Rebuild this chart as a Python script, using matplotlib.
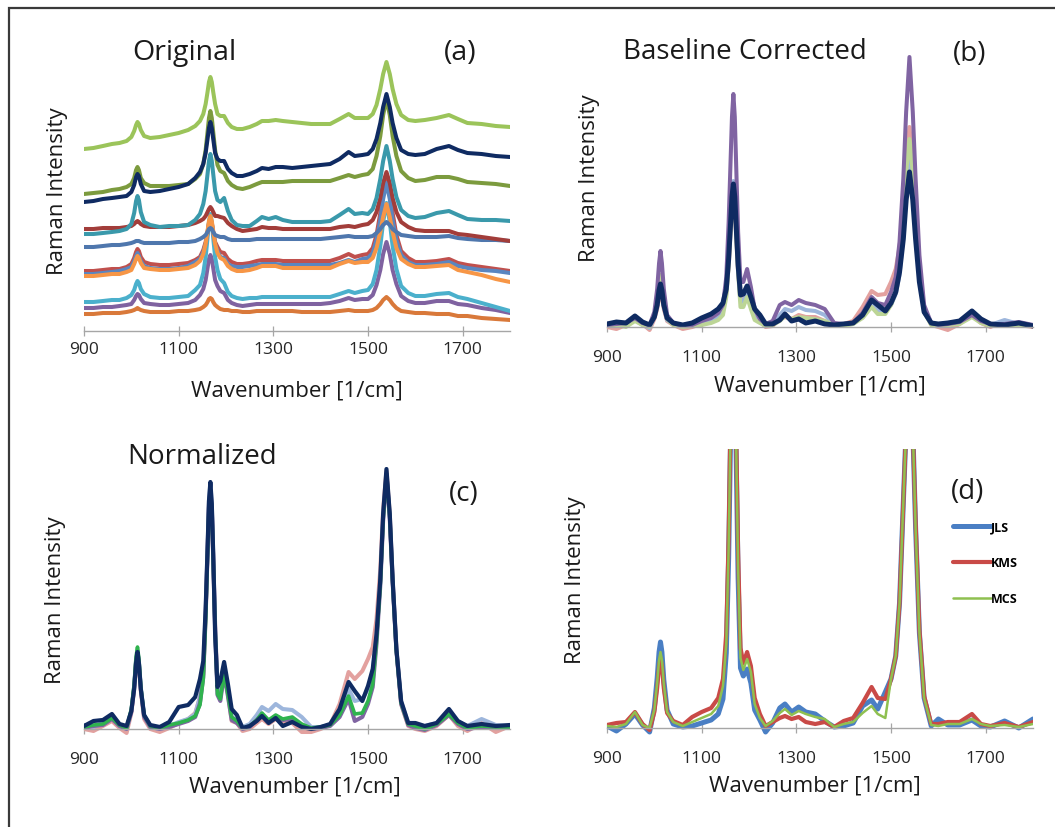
import matplotlib.pyplot as plt
from matplotlib.patches import Rectangle

plt.rcParams['font.family'] = ['Open Sans', 'DejaVu Sans']

# wavenumber grid [1/cm]
wn = [900, 920, 940, 959, 975, 990, 1000, 1006, 1010, 1013,
      1016, 1020, 1027, 1040, 1060, 1080, 1100, 1120, 1135, 1145,
      1152, 1157, 1161, 1164, 1167, 1170, 1173, 1177, 1182, 1188,
      1196, 1204, 1212, 1223, 1235, 1250, 1265, 1276, 1290, 1305,
      1320, 1340, 1360, 1380, 1400, 1420, 1440, 1459, 1472, 1488,
      1500, 1510, 1518, 1526, 1532, 1539, 1546, 1552, 1560, 1570,
      1585, 1600, 1620, 1645, 1671, 1690, 1710, 1740, 1770, 1800]

# (a) original spectra (arbitrary units, stacked as measured)
orig_brown = [17, 17, 18, 18, 18, 19, 20, 21, 22, 23,
              22, 21, 20, 19, 19, 19, 20, 20, 21, 22,
              24, 26, 29, 32, 33, 32, 29, 26, 24, 22,
              21, 21, 20, 20, 19, 19, 20, 20, 20, 20,
              20, 20, 19, 19, 19, 19, 20, 21, 20, 20,
              20, 21, 23, 27, 31, 34, 31, 27, 23, 20,
              19, 18, 18, 17, 17, 15, 15, 13, 12, 11]
orig_purple = [23, 23, 24, 24, 25, 26, 27, 31, 35, 37,
               36, 32, 28, 27, 26, 26, 27, 28, 31, 36,
               42, 51, 63, 72, 76, 72, 63, 51, 45, 40,
               38, 31, 28, 26, 25, 26, 27, 27, 27, 27,
               27, 27, 27, 27, 27, 28, 30, 33, 31, 32,
               32, 36, 46, 61, 77, 89, 77, 61, 47, 35,
               30, 28, 28, 30, 30, 27, 26, 23, 21, 18]
orig_cyan = [29, 29, 30, 31, 31, 33, 36, 41, 47, 50,
             48, 42, 37, 34, 33, 33, 34, 35, 41, 46,
             58, 74, 93, 109, 117, 109, 93, 74, 61, 52,
             48, 39, 35, 33, 32, 33, 33, 34, 34, 34,
             34, 34, 34, 34, 34, 34, 37, 40, 38, 40,
             41, 47, 61, 85, 109, 128, 109, 85, 62, 45,
             38, 35, 35, 37, 38, 34, 32, 28, 24, 20]
orig_red = [60, 60, 61, 62, 62, 64, 67, 73, 79, 82,
            80, 74, 69, 67, 66, 66, 67, 68, 71, 74,
            81, 89, 99, 108, 112, 108, 99, 89, 84, 79,
            78, 72, 69, 67, 67, 68, 70, 71, 71, 71,
            70, 70, 70, 70, 70, 70, 73, 77, 74, 76,
            77, 83, 96, 118, 140, 157, 140, 118, 96, 80,
            73, 69, 69, 70, 72, 68, 66, 64, 62, 60]
orig_blue = [57, 57, 58, 59, 60, 62, 64, 70, 75, 78,
             75, 70, 65, 63, 62, 62, 63, 65, 69, 72,
             79, 87, 98, 107, 110, 107, 98, 87, 80, 74,
             73, 67, 65, 64, 64, 65, 66, 67, 67, 67,
             66, 66, 66, 66, 66, 66, 68, 71, 69, 72,
             73, 78, 91, 111, 132, 148, 132, 111, 91, 76,
             69, 66, 66, 67, 69, 65, 63, 61, 60, 58]
orig_orange = [55, 55, 56, 57, 57, 59, 61, 67, 72, 75,
               73, 68, 63, 62, 61, 61, 62, 63, 66, 70,
               77, 87, 100, 110, 115, 110, 100, 87, 78, 73,
               71, 65, 62, 60, 60, 61, 63, 65, 65, 65,
               63, 63, 63, 63, 63, 63, 67, 70, 68, 69,
               69, 73, 83, 99, 114, 127, 114, 99, 83, 72,
               67, 64, 64, 65, 66, 61, 59, 56, 52, 49]
orig_steel = [84, 84, 85, 86, 86, 87, 88, 89, 90, 90,
              90, 89, 88, 88, 88, 88, 89, 89, 90, 92,
              94, 96, 99, 102, 103, 102, 99, 96, 95, 94,
              94, 92, 91, 91, 91, 91, 92, 92, 92, 92,
              92, 92, 92, 92, 92, 93, 94, 95, 94, 94,
              94, 95, 98, 102, 106, 109, 106, 102, 99, 96,
              95, 94, 94, 94, 95, 93, 92, 91, 91, 90]
orig_darkred = [102, 102, 103, 103, 103, 104, 105, 107, 109, 110,
                109, 107, 105, 104, 104, 104, 105, 106, 108, 110,
                112, 115, 119, 122, 124, 122, 119, 115, 115, 114,
                113, 108, 105, 102, 100, 101, 102, 104, 103, 103,
                102, 102, 102, 102, 102, 102, 104, 105, 104, 106,
                107, 111, 119, 133, 148, 159, 148, 133, 119, 109,
                104, 101, 100, 100, 100, 97, 96, 94, 92, 90]
orig_teal = [97, 97, 98, 99, 100, 102, 107, 118, 130, 135,
             131, 119, 109, 106, 104, 105, 105, 106, 111, 117,
             127, 140, 157, 170, 177, 170, 157, 140, 131, 129,
             133, 120, 111, 106, 105, 105, 110, 114, 112, 114,
             111, 109, 109, 109, 109, 110, 116, 122, 117, 118,
             117, 122, 133, 152, 170, 185, 170, 152, 134, 121,
             115, 113, 114, 118, 120, 116, 112, 111, 111, 110]
orig_olive = [137, 138, 139, 141, 142, 144, 147, 153, 161, 164,
              161, 153, 148, 145, 145, 145, 146, 147, 152, 157,
              167, 181, 199, 213, 220, 213, 199, 181, 166, 160,
              158, 150, 146, 143, 142, 144, 147, 149, 149, 149,
              149, 150, 150, 150, 150, 150, 153, 156, 154, 156,
              157, 162, 175, 195, 216, 232, 216, 195, 175, 160,
              153, 150, 151, 154, 154, 152, 149, 148, 147, 145]
orig_navy = [129, 130, 132, 133, 134, 135, 139, 146, 154, 157,
             155, 147, 140, 139, 140, 142, 144, 147, 153, 159,
             167, 178, 192, 203, 209, 203, 192, 178, 172, 170,
             170, 162, 158, 155, 155, 157, 160, 163, 162, 164,
             164, 163, 164, 165, 166, 167, 172, 179, 175, 176,
             177, 182, 192, 208, 224, 237, 224, 208, 193, 181,
             177, 176, 177, 182, 185, 181, 178, 177, 175, 174]
orig_green = [182, 183, 185, 187, 188, 190, 194, 200, 206, 209,
              207, 201, 195, 193, 194, 196, 198, 201, 205, 210,
              217, 227, 239, 249, 254, 249, 239, 227, 217, 215,
              215, 208, 204, 202, 202, 204, 207, 210, 210, 211,
              210, 209, 208, 207, 207, 207, 212, 217, 213, 213,
              213, 217, 226, 242, 257, 269, 257, 242, 227, 216,
              211, 210, 211, 213, 216, 212, 208, 207, 205, 204]

# (b) baseline corrected
base_salmon = [0, -2, 2, 8, 3, -3, 8, 18, 30, 35,
               30, 18, 6, 2, -2, 0, 3, 6, 10, 18,
               33, 62, 95, 120, 130, 118, 92, 55, 30, 28,
               35, 25, 10, 6, 0, 1, 8, 10, 8, 12,
               10, 10, 6, 2, 3, 6, 20, 36, 32, 33,
               45, 58, 80, 115, 165, 200, 165, 115, 60, 18,
               2, 0, -3, 3, 12, 4, 0, 6, 2, 0]
base_lightblue = [2, 1, 3, 7, 2, -1, 10, 22, 34, 40,
                  34, 21, 7, 3, 1, 2, 4, 6, 9, 16,
                  35, 68, 105, 134, 146, 132, 100, 60, 27, 25,
                  34, 22, 9, 6, 1, 3, 12, 18, 16, 20,
                  17, 16, 12, 3, 2, 3, 11, 24, 17, 16,
                  22, 33, 52, 92, 135, 167, 137, 95, 48, 15,
                  3, 2, 3, 4, 11, 5, 2, 7, 3, 2]
base_lightgreen = [1, 2, 0, 6, 2, 0, 12, 27, 45, 52,
                   45, 27, 8, 2, 0, 1, 2, 4, 7, 12,
                   30, 62, 98, 125, 135, 122, 93, 55, 20, 20,
                   30, 18, 7, 4, 1, 2, 6, 11, 8, 10,
                   9, 8, 6, 2, 1, 3, 9, 20, 13, 13,
                   22, 35, 60, 105, 155, 188, 155, 105, 52, 15,
                   2, 1, 2, 3, 10, 4, 1, 2, 1, 2]
base_purple = [2, 3, 4, 9, 4, 2, 15, 38, 64, 76,
               64, 38, 12, 4, 1, 2, 6, 9, 14, 22,
               50, 105, 165, 210, 233, 210, 160, 95, 45, 45,
               58, 40, 18, 8, 3, 6, 22, 25, 22, 27,
               24, 22, 18, 4, 3, 4, 14, 30, 24, 22,
               35, 50, 85, 148, 215, 270, 215, 148, 72, 22,
               4, 2, 3, 5, 12, 6, 3, 3, 5, 2]
base_navy = [3, 5, 4, 11, 5, 2, 10, 22, 37, 43,
             37, 22, 9, 4, 2, 4, 9, 13, 18, 24,
             38, 68, 103, 130, 143, 130, 100, 62, 32, 33,
             41, 30, 18, 12, 3, 3, 7, 13, 6, 8,
             4, 6, 3, 2, 3, 4, 12, 27, 22, 16,
             24, 35, 55, 88, 127, 155, 127, 88, 45, 15,
             4, 3, 4, 6, 16, 8, 3, 2, 4, 1]

# (c) normalized
norm_salmon = [0, -2, 3, 8, 1, -4, 16, 40, 64, 72,
               62, 38, 10, 0, -3, 1, 6, 10, 16, 32,
               55, 115, 178, 225, 240, 222, 172, 105, 40, 32,
               58, 35, 8, 6, -2, 0, 6, 10, 5, 10,
               7, 6, -3, -3, 0, 4, 25, 57, 50, 58,
               70, 82, 110, 160, 220, 258, 215, 150, 80, 25,
               3, 0, -2, 3, 14, 3, -2, 6, -3, 3]
norm_lightblue = [4, 2, 6, 12, 3, 0, 18, 43, 70, 79,
                  68, 42, 13, 2, 0, 3, 7, 10, 15, 32,
                  58, 118, 180, 228, 245, 225, 175, 105, 40, 33,
                  60, 38, 12, 9, 2, 5, 14, 22, 18, 25,
                  20, 19, 12, 2, 2, 4, 18, 40, 28, 30,
                  40, 58, 92, 148, 212, 255, 213, 150, 80, 27,
                  6, 3, 3, 6, 16, 7, 3, 10, 4, 3]
norm_purple = [1, 3, 4, 10, 3, 0, 17, 42, 68, 78,
               66, 40, 12, 2, 0, 2, 5, 8, 12, 26,
               52, 112, 175, 222, 238, 220, 170, 100, 34, 28,
               55, 33, 9, 6, 0, 2, 9, 14, 8, 13,
               9, 10, 4, 0, 1, 3, 12, 30, 8, 12,
               25, 42, 85, 143, 208, 255, 210, 147, 78, 25,
               4, 1, -1, 4, 14, 5, 0, 2, 1, 1]
norm_green = [2, 4, 5, 11, 4, 1, 20, 45, 72, 82,
              70, 42, 14, 3, 1, 4, 6, 9, 13, 24,
              50, 110, 175, 222, 240, 220, 170, 100, 35, 30,
              57, 35, 12, 8, 1, 3, 9, 16, 9, 14,
              10, 12, 5, 1, 2, 4, 14, 33, 15, 16,
              28, 45, 88, 145, 210, 255, 212, 148, 78, 26,
              5, 3, 0, 5, 15, 6, 1, 3, 2, 2]
norm_navy = [3, 8, 9, 15, 5, 3, 18, 40, 66, 77,
             66, 40, 14, 4, 2, 7, 22, 24, 32, 50,
             68, 120, 180, 228, 247, 225, 175, 95, 42, 48,
             67, 45, 20, 14, 1, 3, 8, 13, 6, 11,
             3, 7, 2, 0, 2, 5, 20, 47, 38, 28,
             43, 60, 95, 150, 215, 260, 215, 150, 80, 28,
             6, 6, 3, 6, 20, 8, 3, 5, 3, 4]

# (d) group means (main peaks run off the top of the axis)
jls = [2, -3, 4, 14, 3, -4, 20, 50, 76, 86,
       76, 48, 18, 4, 1, 2, 5, 8, 14, 29,
       75, 170, 290, 380, 410, 370, 270, 150, 60, 52,
       59, 45, 18, 8, -4, 5, 20, 24, 16, 21,
       16, 14, 7, 1, 2, 5, 22, 28, 19, 36,
       49, 72, 125, 225, 300, 340, 300, 200, 95, 30,
       2, 9, 3, 3, 8, 2, 1, 7, 0, 9]
kms = [3, 5, 6, 16, 4, -2, 16, 40, 62, 70,
       62, 40, 15, 7, 3, 11, 16, 20, 30, 49,
       95, 190, 310, 390, 420, 385, 290, 175, 80, 65,
       76, 62, 30, 14, 2, 6, 10, 12, 9, 11,
       6, 4, 6, 1, 7, 10, 25, 41, 30, 29,
       49, 72, 125, 225, 300, 340, 300, 205, 98, 32,
       4, 4, 6, 6, 14, 4, 2, 5, 1, 6]
mcs = [2, 1, 4, 16, 3, 0, 18, 45, 68, 76,
       68, 44, 16, 6, 2, 6, 10, 14, 22, 42,
       85, 180, 300, 385, 415, 380, 280, 160, 70, 58,
       69, 56, 24, 10, 2, 7, 15, 19, 13, 17,
       14, 11, 9, 1, 4, 6, 15, 22, 14, 10,
       49, 72, 125, 225, 300, 340, 300, 200, 95, 30,
       3, 2, 4, 4, 9, 4, 2, 3, 1, 4]

W, H = 1055, 828


def fx(x):
    return x / W


def fy(y):
    return 1 - y / H


def make_axes(fig, left, right, top, bottom):
    # pixel box -> figure fraction
    return fig.add_axes([fx(left), fy(bottom), (right - left) / W, (bottom - top) / H])


def style_axis(ax, ylim, pad):
    ax.set_xlim(900, 1800)
    ax.set_ylim(*ylim)
    ax.set_xticks([900, 1100, 1300, 1500, 1700])
    ax.set_yticks([])
    for s in ['top', 'right', 'left']:
        ax.spines[s].set_visible(False)
    ax.spines['bottom'].set_position(('data', 0))
    ax.spines['bottom'].set_color('#a6a6a6')
    ax.spines['bottom'].set_linewidth(1.0)
    ax.tick_params(axis='x', direction='inout', length=7, width=0.9,
                   color='#a6a6a6', labelsize=12.5, pad=pad, labelcolor='#262626')
    ax.patch.set_alpha(0)


def line(ax, y, color, lw, label=None):
    ax.plot(wn, y, color=color, lw=lw, label=label,
            solid_joinstyle='round', solid_capstyle='round')


fig = plt.figure(figsize=(W / 100, H / 100), dpi=100)

# outer frame of the figure
fig.patches.append(Rectangle((fx(9), -0.2), 1.2, fy(9) + 0.2, transform=fig.transFigure,
                             fill=False, edgecolor='#3a3a3a', lw=1.6))

# (a)
ax_a = make_axes(fig, 84, 510, 55, 332)
style_axis(ax_a, (0, 277), 4)
line(ax_a, orig_brown, '#d9793a', 2.9)
line(ax_a, orig_purple, '#7f62a0', 2.9)
line(ax_a, orig_cyan, '#4bb0cc', 2.9)
line(ax_a, orig_red, '#c0504d', 2.9)
line(ax_a, orig_blue, '#5a86c0', 2.9)
line(ax_a, orig_orange, '#f79646', 2.9)
line(ax_a, orig_steel, '#4f77ad', 2.9)
line(ax_a, orig_darkred, '#a23d3a', 2.9)
line(ax_a, orig_teal, '#3a99ab', 2.9)
line(ax_a, orig_olive, '#7c9b3e', 2.9)
line(ax_a, orig_navy, '#0f2b62', 2.9)
line(ax_a, orig_green, '#9bc45a', 2.9)

# (b)
ax_b = make_axes(fig, 607, 1033, 48, 338)
style_axis(ax_b, (-10, 280), 12)
line(ax_b, base_salmon, '#e3a19f', 2.9)
line(ax_b, base_lightblue, '#9db6dc', 2.9)
line(ax_b, base_lightgreen, '#bcd596', 2.9)
line(ax_b, base_purple, '#8064a2', 2.9)
line(ax_b, base_navy, '#0f2b62', 3.6)

# (c)
ax_c = make_axes(fig, 84, 510, 460, 740)
style_axis(ax_c, (-10, 270), 12)
line(ax_c, norm_salmon, '#e3a19f', 2.9)
line(ax_c, norm_lightblue, '#9db6dc', 2.9)
line(ax_c, norm_purple, '#8064a2', 2.9)
line(ax_c, norm_green, '#2fb34e', 2.6)
line(ax_c, norm_navy, '#0f2b62', 3.0)

# (d)
ax_d = make_axes(fig, 607, 1033, 450, 739)
style_axis(ax_d, (-10, 279), 12)
line(ax_d, jls, '#4a7fc4', 3.6, 'JLS')
line(ax_d, kms, '#c94a47', 3.0, 'KMS')
line(ax_d, mcs, '#8fc050', 1.8, 'MCS')
ax_d.legend(loc='upper left', bbox_to_anchor=(fx(953), fy(521)), bbox_transform=fig.transFigure,
            frameon=False, handlelength=3.0, handletextpad=0.05, labelspacing=1.85,
            borderpad=0, borderaxespad=0, prop={'weight': 'bold', 'size': 9})

# panel titles and tags
txt = dict(color='#1a1a1a', ha='center', va='center')
fig.text(fx(184), fy(53), 'Original', fontsize=20.5, **txt)
fig.text(fx(460), fy(53), '(a)', fontsize=20.5, **txt)
fig.text(fx(745), fy(52), 'Baseline Corrected', fontsize=20, **txt)
fig.text(fx(970), fy(54), '(b)', fontsize=20, **txt)
fig.text(fx(202), fy(457), 'Normalized', fontsize=20, **txt)
fig.text(fx(464), fy(494), '(c)', fontsize=20, **txt)
fig.text(fx(968), fy(492), '(d)', fontsize=20, **txt)

# axis labels
for x, y in [(297, 391), (820, 386), (295, 787), (815, 786)]:
    fig.text(fx(x), fy(y), 'Wavenumber [1/cm]', fontsize=16, **txt)
for x, y in [(57, 191), (590, 178), (55, 600), (575, 580)]:
    fig.text(fx(x), fy(y), 'Raman Intensity', fontsize=16, rotation=90, **txt)

fig.savefig('out.png', dpi=100)
